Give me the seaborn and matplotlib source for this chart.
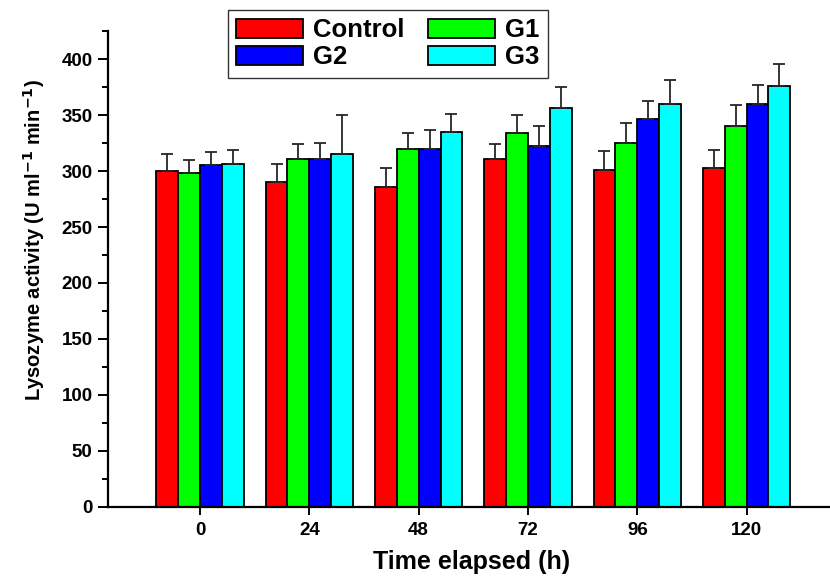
import matplotlib
matplotlib.use("Agg")
import matplotlib.pyplot as plt
import seaborn as sns
import pandas as pd
from matplotlib.ticker import MultipleLocator

times = ["0", "24", "48", "72", "96", "120"]
groups = ["Control", "G1", "G2", "G3"]
control = [300, 290, 286, 311, 301, 303]
control_err = [15, 16, 17, 13, 17, 16]
g1 = [298, 311, 320, 334, 325, 340]
g1_err = [12, 13, 14, 16, 18, 19]
g2 = [305, 311, 320, 322, 347, 360]
g2_err = [12, 14, 17, 18, 16, 17]
g3 = [306, 315, 335, 356, 360, 376]
g3_err = [13, 35, 16, 19, 21, 20]
colors = ["#FF0000", "#00FF00", "#0000FF", "#00FFFF"]

values = [control, g1, g2, g3]
errors = [control_err, g1_err, g2_err, g3_err]

rows = []
for g, vals in zip(groups, values):
    for t, v in zip(times, vals):
        rows.append({"time": t, "group": g, "value": v})
df = pd.DataFrame(rows)

sns.set_style("ticks")
plt.rcParams["font.family"] = ["Liberation Sans", "DejaVu Sans"]
plt.rcParams["font.weight"] = "bold"
plt.rcParams["mathtext.default"] = "bf"
plt.rcParams["text.color"] = "black"
plt.rcParams["axes.labelcolor"] = "black"
plt.rcParams["xtick.color"] = "black"
plt.rcParams["ytick.color"] = "black"

fig = plt.figure(figsize=(8.3, 5.81), dpi=100)
ax = fig.add_axes([0.1301, 0.1279, 0.870, 0.8183])

sns.barplot(data=df, x="time", y="value", hue="group", order=times,
            hue_order=groups, palette=colors, edgecolor="black",
            linewidth=1.3, errorbar=None, width=0.8, ax=ax, saturation=1)

for cont, errs in zip(ax.containers, errors):
    for bar, e in zip(cont, errs):
        x = bar.get_x() + bar.get_width() / 2
        y = bar.get_height()
        ax.errorbar(x, y, yerr=[[0], [e]], fmt="none", ecolor="#262626",
                    elinewidth=1.3, capsize=4.3, capthick=1.3, zorder=1)

ax.set_xlim(-0.842, 5.764)
ax.set_ylim(0, 425)
ax.yaxis.set_major_locator(MultipleLocator(50))
ax.yaxis.set_minor_locator(MultipleLocator(25))

for s in ["top", "right"]:
    ax.spines[s].set_visible(False)
for s in ["left", "bottom"]:
    ax.spines[s].set_linewidth(1.6)
    ax.spines[s].set_color("black")

ax.tick_params(axis="y", which="major", length=7, width=1.4, pad=4,
               labelsize=13.5, colors="black")
ax.tick_params(axis="y", which="minor", length=4, width=1.4, colors="black")
ax.tick_params(axis="x", which="major", length=6, width=1.4, pad=5,
               labelsize=13.5, colors="black")
for lab in ax.get_xticklabels() + ax.get_yticklabels():
    lab.set_fontweight("bold")
    lab.set_color("black")

ax.set_xlabel("Time elapsed (h)", fontsize=18, fontweight="bold", color="black")
ax.xaxis.set_label_coords(0.503, -0.092)
ax.set_ylabel("Lysozyme activity (U ml$^{-1}$ min$^{-1}$)",
              fontsize=14.5, fontweight="bold", color="black")
ax.yaxis.set_label_coords(-0.084, 0.561)

handles, labels = ax.get_legend_handles_labels()
order = [0, 2, 1, 3]
leg = ax.legend([handles[i] for i in order], [labels[i] for i in order],
                ncol=2, loc="upper left", borderaxespad=0,
                bbox_to_anchor=(0.166, 1.045), frameon=True, fancybox=False,
                edgecolor="black", prop={"weight": "bold", "size": 18.5},
                handlelength=2.6, handleheight=0.76, handletextpad=0.4,
                columnspacing=0.9, labelspacing=0.12, borderpad=0.33)
leg.get_frame().set_linewidth(1.0)
for t in leg.get_texts():
    t.set_color("black")

fig.savefig("out.png", dpi=100)
